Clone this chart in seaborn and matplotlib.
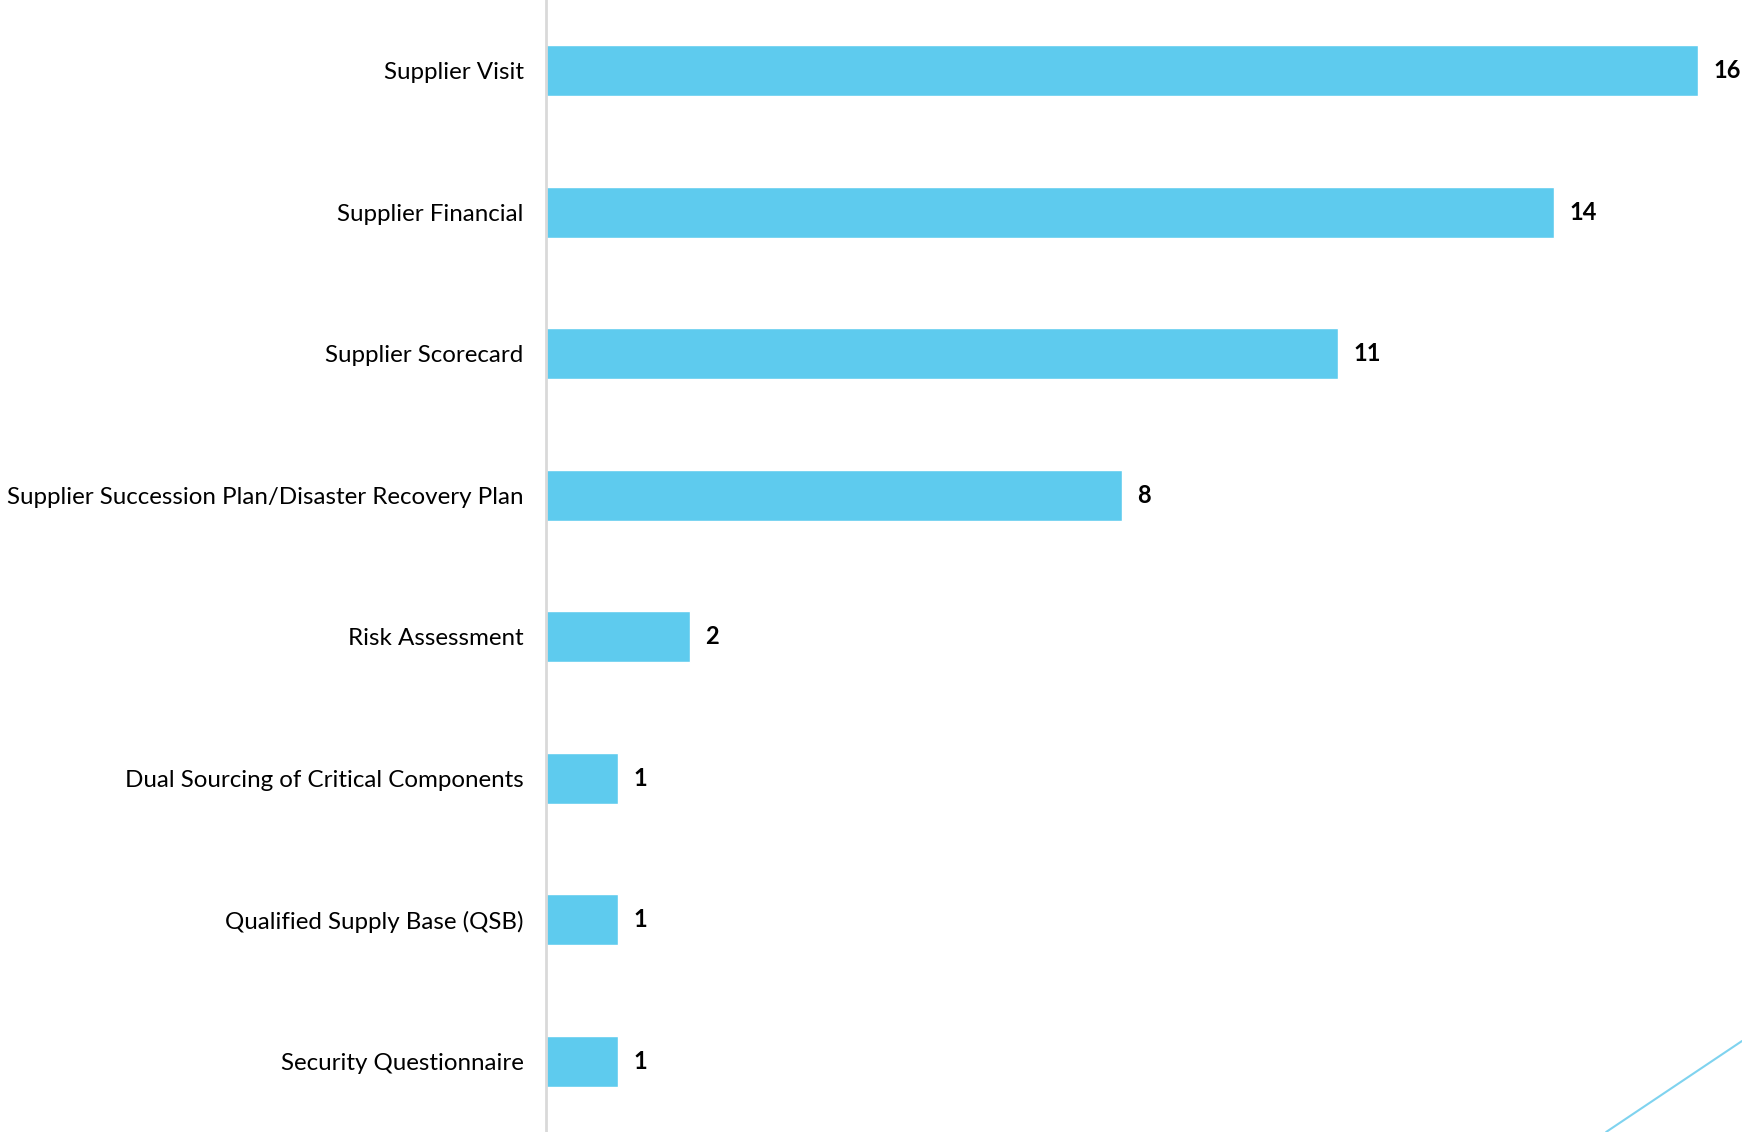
import matplotlib
matplotlib.use("Agg")
import matplotlib.pyplot as plt
from matplotlib.lines import Line2D
import seaborn as sns
import pandas as pd

categories = [
    "Supplier Visit",
    "Supplier Financial",
    "Supplier Scorecard",
    "Supplier Succession Plan/Disaster Recovery Plan",
    "Risk Assessment",
    "Dual Sourcing of Critical Components",
    "Qualified Supply Base (QSB)",
    "Security Questionnaire",
]
counts = [16, 14, 11, 8, 2, 1, 1, 1]

BAR_COLOR = "#5ECBEE"
AXIS_COLOR = "#D9D9D9"

sns.set_theme(style="white")
plt.rcParams["font.family"] = ["Lato", "DejaVu Sans"]

df = pd.DataFrame({"category": categories, "count": counts})

fig = plt.figure(figsize=(17.42, 11.32), dpi=100)
ax = fig.add_axes([0.3134, 0.0, 0.6866, 1.0])

sns.barplot(data=df, y="category", x="count", orient="h", color=BAR_COLOR,
            saturation=1, width=0.36, ax=ax)

ax.set_xlim(0, 16.61)
ax.set_ylim(len(categories) - 0.5, -0.5)
ax.set_xlabel("")
ax.set_ylabel("")
ax.set_xticks([])
ax.tick_params(axis="y", length=0, pad=16, labelsize=17.4, labelcolor="black")

for side in ("top", "right", "bottom"):
    ax.spines[side].set_visible(False)
ax.spines["left"].set_color(AXIS_COLOR)
ax.spines["left"].set_linewidth(2)

for container in ax.containers:
    ax.bar_label(container, fmt="%d", padding=11, fontsize=17,
                 fontweight="bold", color="black")

# decorative accent stroke in the lower right corner
fig.add_artist(Line2D([1.0, 0.922], [1 - 1041 / 1132, 0.0],
                      transform=fig.transFigure, color="#7FD3EF", lw=1.5))

fig.savefig("out.png", dpi=100, facecolor="white")
